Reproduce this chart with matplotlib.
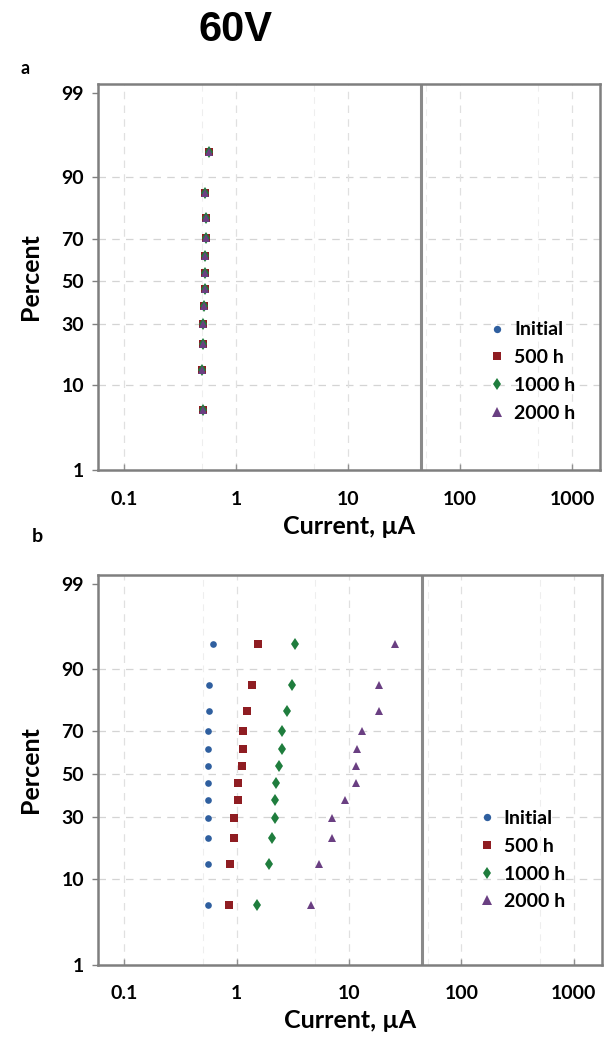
import numpy as np
import matplotlib
matplotlib.use("Agg")
import matplotlib.pyplot as plt
from statistics import NormalDist
from matplotlib.ticker import FixedLocator, NullFormatter, NullLocator

# ---------------- data ----------------
percent = [5.6, 13.7, 21.8, 29.8, 37.9, 46.0, 54.0, 62.1, 70.2, 78.2, 86.3, 94.4]

a_initial = [0.51, 0.50, 0.51, 0.51, 0.52, 0.53, 0.53, 0.53, 0.54, 0.54, 0.53, 0.57]
a_500h = [0.51, 0.50, 0.51, 0.51, 0.52, 0.53, 0.53, 0.53, 0.54, 0.54, 0.53, 0.57]
a_1000h = [0.51, 0.50, 0.51, 0.51, 0.52, 0.53, 0.53, 0.53, 0.54, 0.54, 0.53, 0.57]
a_2000h = [0.51, 0.50, 0.51, 0.51, 0.52, 0.53, 0.53, 0.53, 0.54, 0.54, 0.53, 0.57]

b_initial = [0.56, 0.56, 0.56, 0.56, 0.56, 0.56, 0.56, 0.56, 0.56, 0.57, 0.57, 0.62]
b_500h = [0.85, 0.87, 0.94, 0.94, 1.04, 1.04, 1.11, 1.15, 1.15, 1.25, 1.36, 1.54]
b_1000h = [1.51, 1.94, 2.08, 2.18, 2.18, 2.26, 2.39, 2.56, 2.56, 2.79, 3.14, 3.30]
b_2000h = [4.6, 5.4, 7.0, 7.1, 9.3, 11.5, 11.5, 11.8, 13.1, 18.4, 18.4, 25.9]

series_labels = ["Initial", "500 h", "1000 h", "2000 h"]
x_ticks = [0.1, 1, 10, 100, 1000]
x_tick_labels = ["0.1", "1", "10", "100", "1000"]
y_ticks = [1, 10, 30, 50, 70, 90, 99]
y_tick_labels = ["1", "10", "30", "50", "70", "90", "99"]
limit_current = 45

colors = ["#2f5f9f", "#8f1d22", "#1f7d3d", "#6a3f82"]
markers = ["o", "s", "d", "^"]
msizes = [4.8, 5.2, 6.0, 6.0]

# ------------- probability scale -------------
_nd = NormalDist()


def _ppf(v):
    if not np.isfinite(v):
        return np.nan
    v = min(max(v, 1e-6), 100 - 1e-6)
    return _nd.inv_cdf(v / 100.0)


def _cdf(v):
    if not np.isfinite(v):
        return np.nan
    return 100.0 * _nd.cdf(v)


_ppf_v = np.vectorize(_ppf, otypes=[float])
_cdf_v = np.vectorize(_cdf, otypes=[float])


def fwd(p):
    return _ppf_v(np.asarray(p, dtype=float))


def inv(z):
    return _cdf_v(np.asarray(z, dtype=float))


FONT = ["Lato", "DejaVu Sans"]
plt.rcParams["font.family"] = FONT

fig = plt.figure(figsize=(6.11, 10.41), dpi=100)

ax_a = fig.add_axes([98 / 611, 1 - 470 / 1041, 502 / 611, 386 / 1041])
ax_b = fig.add_axes([98 / 611, 1 - 965 / 1041, 504 / 611, 390 / 1041])

panels = [
    (ax_a, [a_initial, a_500h, a_1000h, a_2000h], (0.753, 0.42), 15),
    (ax_b, [b_initial, b_500h, b_1000h, b_2000h], (0.730, 0.432), 14.5),
]

for ax, data, legpos, xpad in panels:
    ax.set_xscale("log")
    ax.set_yscale("function", functions=(fwd, inv))
    ax.set_xlim(0.0586, 1780)
    ax.set_ylim(1, 99.25)

    for vals, lab, c, m, ms in zip(data, series_labels, colors, markers, msizes):
        ax.plot(vals, percent, linestyle="none", marker=m, color=c,
                markersize=ms, markeredgewidth=0, label=lab, zorder=3)

    ax.axvline(limit_current, color="#8a8a8a", linewidth=2.2, zorder=2)

    # grid
    for yv in [10, 30, 50, 70, 90]:
        ax.axhline(yv, color="#d4d4d4", linewidth=0.9, linestyle=(0, (6, 5)), zorder=1)
    for xv in [0.1, 1, 10, 100, 1000]:
        ax.axvline(xv, color="#e0e0e0", linewidth=0.9, linestyle=(0, (6, 5)), zorder=1)
    for xv in [0.5, 5, 50, 500]:
        ax.axvline(xv, color="#eeeeee", linewidth=0.8, linestyle=(0, (6, 5)), zorder=1)

    ax.xaxis.set_major_locator(FixedLocator(x_ticks))
    ax.set_xticklabels(x_tick_labels)
    ax.xaxis.set_minor_locator(NullLocator())
    ax.xaxis.set_minor_formatter(NullFormatter())
    ax.yaxis.set_major_locator(FixedLocator(y_ticks))
    ax.set_yticklabels(y_tick_labels)
    ax.yaxis.set_minor_locator(NullLocator())
    ax.yaxis.set_minor_formatter(NullFormatter())

    ax.tick_params(axis="x", direction="in", length=4, width=1, color="#909090",
                   pad=xpad, labelsize=14)
    ax.tick_params(axis="y", length=4, width=1, color="#808080", pad=6, labelsize=14)
    for lbl in ax.get_xticklabels() + ax.get_yticklabels():
        lbl.set_fontweight("bold")

    for sp in ax.spines.values():
        sp.set_color("#7f7f7f")
        sp.set_linewidth(1.8)

    ax.set_xlabel("Current, \u00b5A", fontsize=18, fontweight="bold", labelpad=5)
    ax.set_ylabel("Percent", fontsize=18, fontweight="bold", labelpad=14)

    leg = ax.legend(loc="upper left", bbox_to_anchor=legpos, frameon=False,
                    fontsize=14, handlelength=0.8, handletextpad=0.45,
                    labelspacing=0.55, borderpad=0.2, markerscale=1.1)
    for t in leg.get_texts():
        t.set_fontweight("bold")

fig.text(0.385, 0.971, "60V", ha="center", va="center", fontsize=30,
         fontweight="bold", family=["Liberation Sans", "DejaVu Sans"])
fig.text(25 / 611, 1 - 68 / 1041, "a", ha="center", va="center", fontsize=13, fontweight="bold")
fig.text(37 / 611, 1 - 537 / 1041, "b", ha="center", va="center", fontsize=14, fontweight="bold")

fig.savefig("out.png", dpi=100)
